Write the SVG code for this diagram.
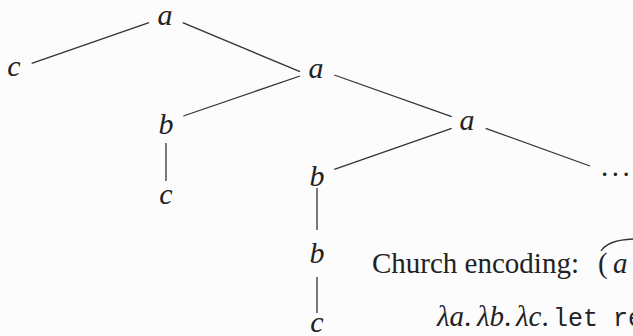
<svg xmlns="http://www.w3.org/2000/svg" width="633" height="336" viewBox="0 0 633 336">
<style>
.lbl{font-family:"Liberation Serif",serif;font-style:italic;font-size:30px;fill:#222;text-anchor:middle}
.txt{font-family:"Liberation Serif",serif;font-size:29px;fill:#222}
.it{font-style:italic}
.mono{font-family:"Liberation Mono",monospace;font-size:25px}
.edge{stroke:#333;stroke-width:1.3;fill:none}
</style>
<rect width="633" height="336" fill="#fcfcfc"/>
<g id="connectors">
<line class="edge" x1="31.7" y1="63.3" x2="149" y2="22.7"/>
<line class="edge" x1="182.7" y1="22.7" x2="300" y2="71.7"/>
<line class="edge" x1="300" y1="76" x2="183.3" y2="116"/>
<line class="edge" x1="334.3" y1="75" x2="451.7" y2="116.7"/>
<line class="edge" x1="451.7" y1="128.3" x2="334.3" y2="169.3"/>
<line class="edge" x1="485.7" y1="128.3" x2="590" y2="166"/>
<line class="edge" x1="166" y1="143" x2="166" y2="181"/>
<line class="edge" x1="317" y1="188" x2="317" y2="230"/>
<line class="edge" x1="317" y1="277" x2="317" y2="313"/>
</g>
<g id="n-a-root"><text class="lbl" x="165" y="25">a</text></g>
<g id="n-c-left"><text class="lbl" x="14" y="76">c</text></g>
<g id="n-a2"><text class="lbl" x="316" y="78">a</text></g>
<g id="n-b1"><text class="lbl" x="166" y="134">b</text></g>
<g id="n-c1"><text class="lbl" x="166" y="204">c</text></g>
<g id="n-a3"><text class="lbl" x="467" y="130">a</text></g>
<g id="n-b2"><text class="lbl" x="317" y="186">b</text></g>
<g id="n-b3"><text class="lbl" x="317" y="263">b</text></g>
<g id="n-c3"><text class="lbl" x="317" y="332">c</text></g>
<g id="n-dots"><text class="txt" x="601" y="176" letter-spacing="3.5">...</text></g>
<g id="caption">
<text class="txt" x="372" y="273">Church encoding: <tspan x="598">(</tspan><tspan class="it" x="613">a</tspan></text>
<path class="edge" d="M601,251 Q608,240 633,239" stroke-width="1.8"/>
<text class="txt" y="326"><tspan class="it" x="437">λa</tspan>.<tspan class="it" x="477">λb</tspan>.<tspan class="it" x="516">λc</tspan>.<tspan class="mono" x="553">let re</tspan></text>
</g>
</svg>
